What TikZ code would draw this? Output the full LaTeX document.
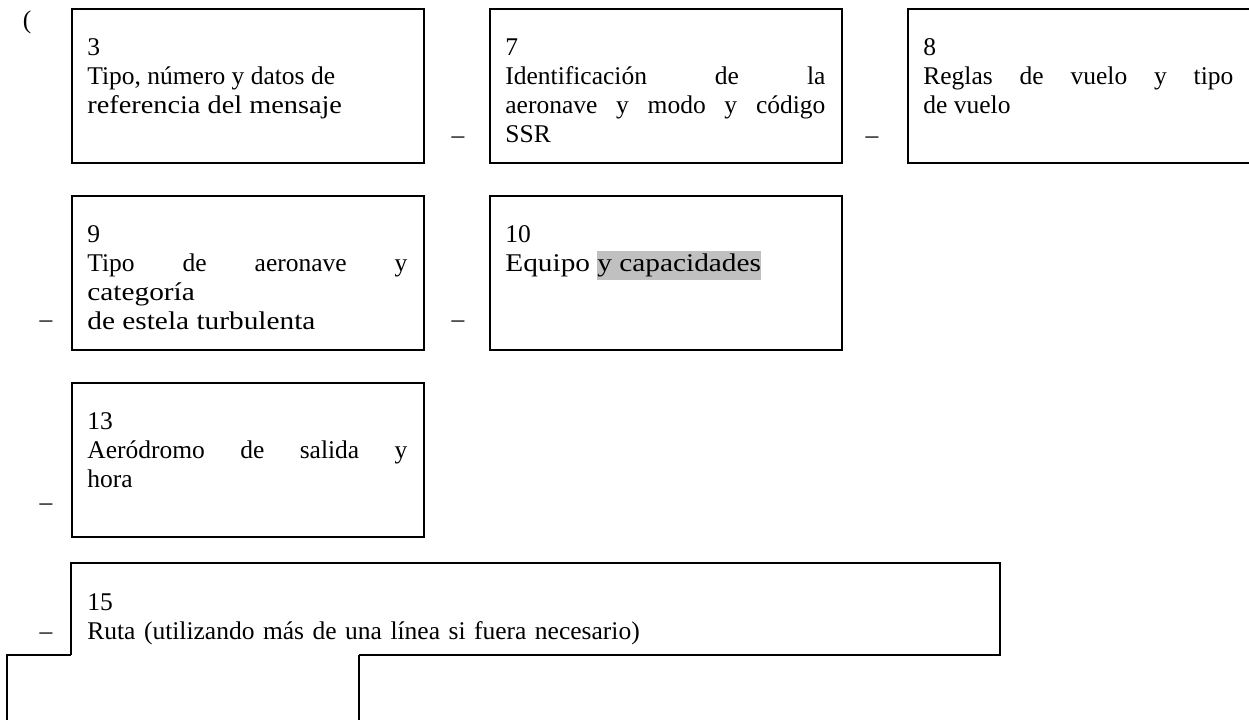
\documentclass[tikz,border=0pt]{standalone}
\usepackage{fontspec}
\setmainfont{Liberation Serif}
\usepackage{graphicx,xcolor}
\usetikzlibrary{positioning}
\usetikzlibrary{calc}
\definecolor{hilite}{RGB}{192,192,192}
\newcommand{\marca}[1]{{\setlength{\fboxsep}{0pt}\colorbox{hilite}{\strut #1}}}
\newcommand{\ancho}[2]{\scalebox{#1}[1]{#2}}
\tolerance=9999
\hbadness=10000
\hyphenpenalty=10000

\begin{document}
\begin{tikzpicture}[x=0.5pt, y=-0.5pt,
    font=\fontsize{12.75}{14.5}\selectfont,
    node distance=15.5pt and 32pt,
    casilla/.style={draw, line width=1pt, minimum width=176pt, minimum height=77pt, inner sep=0pt},
    texto/.style={anchor=north west, inner sep=0pt, text width=160pt, align=justify},
    guion/.style={anchor=base, inner sep=0pt},
    linea/.style={line width=1pt}]
  \useasboundingbox (0,0) rectangle (1249,719);
  \clip (0,0) rectangle (1249,719);
  \node[casilla, anchor=north west] (b3) at (71,8) {};
  \node[casilla, right=of b3] (b7) {};
  \node[casilla, right=of b7] (b8) {};
  \node[casilla, below=of b3] (b9) {};
  \node[casilla, right=of b9] (b10) {};
  \node[casilla, below=of b9] (b13) {};
  \coordinate (r15a) at (71,655);
  \coordinate (r15b) at (71,563);
  \coordinate (r15c) at (1000,563);
  \coordinate (r15d) at (1000,655);
  \coordinate (r15e) at (359,655);
  \coordinate (c1a) at (7,730);
  \coordinate (c1b) at (7,655);
  \coordinate (c2a) at (359,730);
  \draw[linea] (r15a) -- (r15b) -- (r15c) -- (r15d) -- (r15e);
  \draw[linea] (c1a) -- (c1b) -- (r15a);
  \draw[linea] (c2a) -- (r15e);
  \node[texto] (t3) at ([shift={(8pt,-15pt)}]b3.north west)
    {3\\Tipo, número y datos de\\\ancho{1.11}{referencia del mensaje}};
  \node[texto] (t7) at ([shift={(8pt,-15pt)}]b7.north west)
    {7\\Identificación de la\linebreak aeronave y modo y código\linebreak SSR};
  \node[texto, text width=155pt] (t8) at ([shift={(8pt,-15pt)}]b8.north west)
    {8\\Reglas de vuelo y tipo\linebreak de vuelo};
  \node[texto] (t9) at ([shift={(8pt,-15pt)}]b9.north west)
    {9\\Tipo de aeronave y\linebreak \ancho{1.15}{categoría}\\\ancho{1.15}{de estela turbulenta}};
  \node[texto] (t10) at ([shift={(8pt,-15pt)}]b10.north west)
    {10\\\ancho{1.15}{Equipo \marca{y capacidades}}};
  \node[texto] (t13) at ([shift={(8pt,-15pt)}]b13.north west)
    {13\\Aeródromo de salida y\linebreak hora};
  \node[texto, text width=450pt, align=left] (t15) at ([shift={(8pt,-15pt)}]r15b)
    {15\\Ruta (utilizando más de una línea si fuera necesario)};
  \node[guion] (par) at (27,28) {(};
  \node[guion] (g1) at (458,143) {--};
  \node[guion] (g2) at (872,143) {--};
  \node[guion] (g3) at (46,327) {--};
  \node[guion] (g4) at (458,327) {--};
  \node[guion] (g5) at (46,510) {--};
  \node[guion] (g6) at (46,639) {--};
\end{tikzpicture}
\end{document}
